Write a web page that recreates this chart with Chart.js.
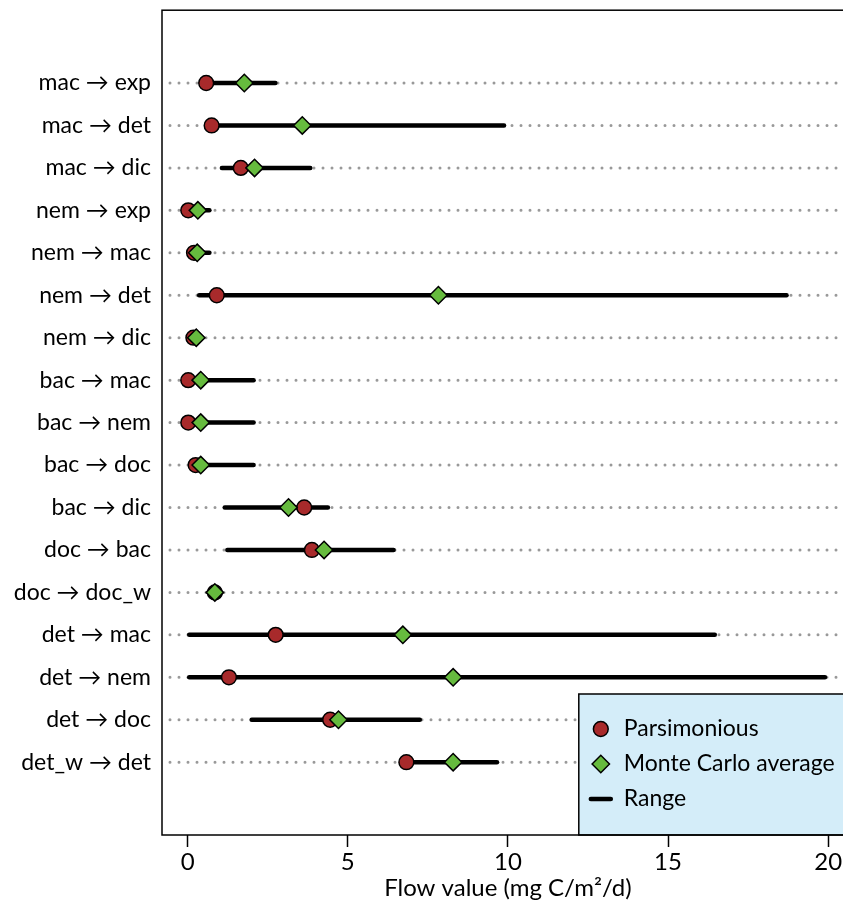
<!DOCTYPE html>
<html>
<head>
<meta charset="utf-8">
<script src="https://cdn.jsdelivr.net/npm/chart.js@4/dist/chart.umd.min.js"></script>
<style>
  html, body { margin: 0; padding: 0; background: #fff; overflow: hidden; }
  #wrap { width: 843px; height: 907px; overflow: hidden; }
  canvas { display: block; }
</style>
</head>
<body>
<div id="wrap"><canvas id="flowChart" width="864" height="907"></canvas></div>
<script>
// flows, top to bottom
var flows = ["mac \u2192 exp", "mac \u2192 det", "mac \u2192 dic", "nem \u2192 exp", "nem \u2192 mac",
  "nem \u2192 det", "nem \u2192 dic", "bac \u2192 mac", "bac \u2192 nem", "bac \u2192 doc", "bac \u2192 dic",
  "doc \u2192 bac", "doc \u2192 doc_w", "det \u2192 mac", "det \u2192 nem", "det \u2192 doc", "det_w \u2192 det"];
var parsimonious = [0.58, 0.75, 1.66, 0.02, 0.20, 0.91, 0.18, 0.02, 0.02, 0.25, 3.64, 3.88, 0.85, 2.75, 1.29, 4.45, 6.83];
var monteCarlo   = [1.77, 3.58, 2.09, 0.32, 0.30, 7.83, 0.27, 0.41, 0.41, 0.41, 3.15, 4.26, 0.85, 6.72, 8.29, 4.71, 8.29];
var rangeMin     = [0.58, 0.75, 1.07, 0.02, 0.20, 0.36, 0.18, 0.02, 0.02, 0.25, 1.16, 1.24, 0.85, 0.05, 0.05, 2.00, 6.83];
var rangeMax     = [2.74, 9.88, 3.83, 0.68, 0.68, 18.70, 0.27, 2.06, 2.06, 2.06, 4.38, 6.43, 0.85, 16.46, 19.90, 7.25, 9.66];
var xTicks = [0, 5, 10, 15, 20];
var legendLabels = ["Parsimonious", "Monte Carlo average", "Range"];

var RED = '#a82a2b';
var GREEN = '#66bb3e';
var FONT = 'Lato, "Open Sans", sans-serif';
var X_MIN = -0.8, X_MAX = 20.8;

var datasets = [];
datasets.push({
  label: legendLabels[1], type: 'scatter', order: 0,
  data: monteCarlo.map(function (v, i) { return { x: v, y: i }; }),
  pointStyle: 'rectRot', pointRadius: 8.7, backgroundColor: GREEN, borderColor: '#000', borderWidth: 1.5
});
datasets.push({
  label: legendLabels[0], type: 'scatter', order: 1,
  data: parsimonious.map(function (v, i) { return { x: v, y: i }; }),
  pointStyle: 'circle', pointRadius: 7.4, backgroundColor: RED, borderColor: '#000', borderWidth: 1.5
});
flows.forEach(function (f, i) {
  // range bar
  datasets.push({
    type: 'line', order: 2,
    data: [{ x: rangeMin[i], y: i }, { x: rangeMax[i], y: i }],
    borderColor: '#000', borderWidth: 4.5, borderCapStyle: 'round', pointRadius: 0
  });
  // dotted guide
  datasets.push({
    type: 'line', order: 3,
    data: [{ x: X_MIN, y: i }, { x: X_MAX, y: i }],
    borderColor: '#999', borderWidth: 3, borderCapStyle: 'round',
    borderDash: [0, 9], borderDashOffset: 1, pointRadius: 0
  });
});

var frameAndLegend = {
  id: 'frameAndLegend',
  afterDatasetsDraw: function (chart) {
    var ctx = chart.ctx, a = chart.chartArea;
    ctx.save();
    // legend box, bottom right
    var bw = 275, bh = 141;
    var bx = a.right - bw, by = a.bottom - bh;
    ctx.fillStyle = '#d4edf9';
    ctx.fillRect(bx, by, bw, bh);
    ctx.strokeStyle = '#000';
    ctx.lineWidth = 1.5;
    ctx.strokeRect(bx, by, bw, bh);
    var rows = [by + 35, by + 70, by + 105];
    var mx = bx + 22;
    ctx.beginPath();
    ctx.arc(mx, rows[0], 7.4, 0, Math.PI * 2);
    ctx.fillStyle = RED; ctx.fill(); ctx.stroke();
    ctx.beginPath();
    ctx.moveTo(mx - 8.7, rows[1]); ctx.lineTo(mx, rows[1] - 8.7);
    ctx.lineTo(mx + 8.7, rows[1]); ctx.lineTo(mx, rows[1] + 8.7); ctx.closePath();
    ctx.fillStyle = GREEN; ctx.fill(); ctx.stroke();
    ctx.beginPath();
    ctx.lineWidth = 4.5; ctx.lineCap = 'round';
    ctx.moveTo(mx - 10, rows[2]); ctx.lineTo(mx + 10, rows[2]); ctx.stroke();
    ctx.fillStyle = '#000';
    ctx.font = '23px ' + FONT;
    ctx.textBaseline = 'middle';
    ctx.textAlign = 'left';
    legendLabels.forEach(function (t, k) { ctx.fillText(t, bx + 45, rows[k]); });
    // plot frame (right side falls outside the visible page, as in the original)
    ctx.lineWidth = 1.5;
    ctx.strokeRect(a.left, a.top, a.right - a.left, a.bottom - a.top);
    ctx.restore();
  }
};

new Chart(document.getElementById('flowChart').getContext('2d'), {
  type: 'scatter',
  data: { datasets: datasets },
  plugins: [frameAndLegend],
  options: {
    responsive: false,
    animation: false,
    layout: { padding: { top: 8, right: 0, bottom: 0, left: 0 } },
    plugins: { legend: { display: false }, tooltip: { enabled: false } },
    scales: {
      x: {
        type: 'linear', min: X_MIN, max: X_MAX,
        afterBuildTicks: function (s) { s.ticks = xTicks.map(function (v) { return { value: v }; }); },
        afterFit: function (s) { s.height = 72; s.paddingLeft = 0; s.paddingRight = 0; },
        grid: { drawOnChartArea: false, drawTicks: true, tickLength: 12, tickColor: '#000', tickWidth: 1.5 },
        border: { display: false },
        ticks: { color: '#000', font: { family: FONT, size: 24 }, padding: 1, maxRotation: 0 },
        title: { display: true, text: 'Flow value (mg C/m\u00b2/d)', color: '#000',
                 font: { family: FONT, size: 24 }, padding: { top: 0, bottom: 4 } }
      },
      y: {
        type: 'linear', reverse: true, min: -1.715, max: 17.715,
        afterBuildTicks: function (s) { s.ticks = flows.map(function (f, i) { return { value: i }; }); },
        afterFit: function (s) { s.width = 162; s.paddingTop = 0; s.paddingBottom = 0; },
        grid: { display: false, drawTicks: false },
        border: { display: false },
        ticks: {
          color: '#000', font: { family: FONT, size: 23 }, padding: 11,
          callback: function (v) { return flows[v]; }
        }
      }
    }
  }
});
</script>
</body>
</html>
